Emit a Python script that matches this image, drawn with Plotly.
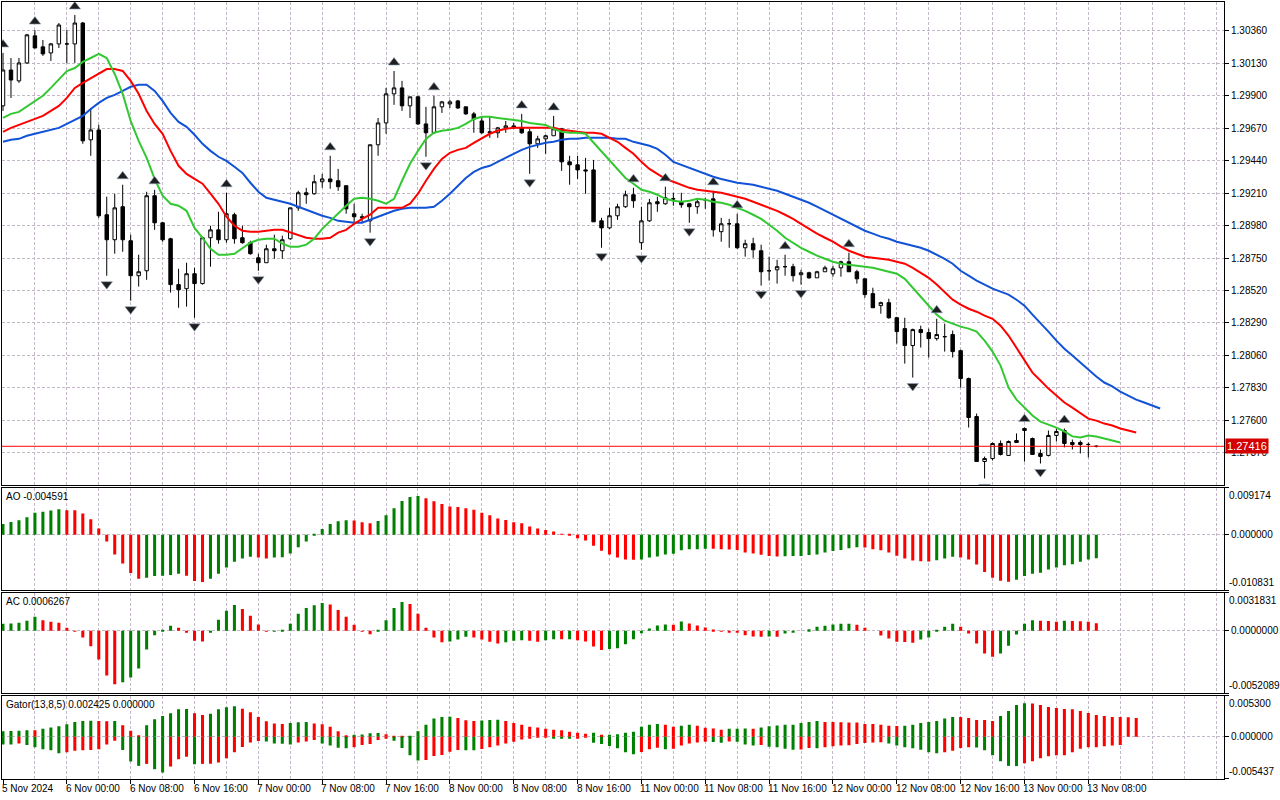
import plotly.graph_objects as go
from plotly.subplots import make_subplots

# GBPUSD H1, one bar per hour (weekend skipped), labels every 8 bars
time_labels = ["5 Nov 2024", "6 Nov 00:00", "6 Nov 08:00", "6 Nov 16:00", "7 Nov 00:00",
               "7 Nov 08:00", "7 Nov 16:00", "8 Nov 00:00", "8 Nov 08:00", "8 Nov 16:00",
               "11 Nov 00:00", "11 Nov 08:00", "11 Nov 16:00", "12 Nov 00:00", "12 Nov 08:00",
               "12 Nov 16:00", "13 Nov 00:00", "13 Nov 08:00"]

opens = [1.29829, 1.30083, 1.30006, 1.30133, 1.30325, 1.30247, 1.30204, 1.30268, 1.30268, 1.30268,
         1.30416, 1.29588, 1.29658, 1.29057, 1.28880, 1.29114, 1.28873, 1.28625, 1.28660, 1.29192,
         1.29000, 1.28887, 1.28562, 1.28533, 1.28639, 1.28569, 1.28894, 1.28950, 1.28880, 1.29057,
         1.28894, 1.28859, 1.28752, 1.28717, 1.28816, 1.28802, 1.28887, 1.29106, 1.29213, 1.29206,
         1.29291, 1.29311, 1.29298, 1.29263, 1.29064, 1.29043, 1.29014, 1.29553, 1.29708, 1.29914,
         1.29956, 1.29829, 1.29893, 1.29701, 1.29638, 1.29822, 1.29843, 1.29864, 1.29822, 1.29772,
         1.29722, 1.29645, 1.29638, 1.29673, 1.29687, 1.29673, 1.29645, 1.29560, 1.29595, 1.29617,
         1.29666, 1.29432, 1.29411, 1.29375, 1.29375, 1.29014, 1.28964, 1.29050, 1.29114, 1.29199,
         1.28859, 1.29014, 1.29149, 1.29135, 1.29170, 1.29149, 1.29135, 1.29114, 1.29163, 1.29170,
         1.28937, 1.28993, 1.28993, 1.28823, 1.28852, 1.28802, 1.28660, 1.28667, 1.28689, 1.28689,
         1.28632, 1.28646, 1.28610, 1.28653, 1.28639, 1.28681, 1.28724, 1.28653, 1.28603, 1.28498,
         1.28413, 1.28434, 1.28327, 1.28250, 1.28130, 1.28243, 1.28222, 1.28179, 1.28193, 1.28208,
         1.28094, 1.27896, 1.27627, 1.27308, 1.27329, 1.27436, 1.27351, 1.27457, 1.27542, 1.27471,
         1.27365, 1.27351, 1.27493, 1.27528, 1.27443, 1.27443, 1.27429, 1.27415]
highs = [1.30204, 1.30168, 1.30168, 1.30339, 1.30366, 1.30296, 1.30275, 1.30416, 1.30366, 1.30473,
         1.30423, 1.29814, 1.29694, 1.29185, 1.29206, 1.29270, 1.28916, 1.28774, 1.29220, 1.29234,
         1.29007, 1.28894, 1.28674, 1.28717, 1.28681, 1.28902, 1.28979, 1.29078, 1.29213, 1.29071,
         1.28979, 1.28873, 1.28781, 1.28845, 1.28916, 1.28909, 1.29106, 1.29227, 1.29248, 1.29340,
         1.29347, 1.29475, 1.29382, 1.29263, 1.29135, 1.29064, 1.29553, 1.29743, 1.29956, 1.30076,
         1.30006, 1.29893, 1.29900, 1.29822, 1.29900, 1.29864, 1.29871, 1.29871, 1.29822, 1.29786,
         1.29750, 1.29750, 1.29680, 1.29722, 1.29708, 1.29772, 1.29666, 1.29617, 1.29624, 1.29758,
         1.29673, 1.29475, 1.29475, 1.29460, 1.29446, 1.29035, 1.29106, 1.29135, 1.29227, 1.29248,
         1.29114, 1.29170, 1.29185, 1.29256, 1.29213, 1.29213, 1.29142, 1.29170, 1.29177, 1.29227,
         1.29035, 1.29028, 1.29064, 1.28880, 1.28894, 1.28845, 1.28760, 1.28738, 1.28774, 1.28710,
         1.28667, 1.28653, 1.28660, 1.28696, 1.28696, 1.28731, 1.28788, 1.28667, 1.28603, 1.28540,
         1.28441, 1.28462, 1.28334, 1.28327, 1.28250, 1.28271, 1.28250, 1.28320, 1.28285, 1.28236,
         1.28101, 1.27903, 1.27648, 1.27343, 1.27443, 1.27457, 1.27457, 1.27507, 1.27549, 1.27478,
         1.27393, 1.27528, 1.27542, 1.27542, 1.27464, 1.27457, 1.27443, 1.27422]
lows = [1.29793, 1.29885, 1.29992, 1.30126, 1.30239, 1.30183, 1.30147, 1.30239, 1.30133, 1.30133,
        1.29560, 1.29475, 1.29035, 1.28625, 1.28781, 1.28795, 1.28448, 1.28548, 1.28596, 1.28950,
        1.28866, 1.28505, 1.28398, 1.28406, 1.28327, 1.28562, 1.28689, 1.28852, 1.28859, 1.28852,
        1.28852, 1.28774, 1.28660, 1.28717, 1.28745, 1.28745, 1.28880, 1.29085, 1.29135, 1.29199,
        1.29248, 1.29241, 1.29227, 1.29064, 1.29000, 1.29000, 1.28930, 1.29475, 1.29631, 1.29836,
        1.29793, 1.29743, 1.29694, 1.29468, 1.29631, 1.29779, 1.29814, 1.29807, 1.29765, 1.29638,
        1.29631, 1.29602, 1.29602, 1.29638, 1.29666, 1.29631, 1.29347, 1.29531, 1.29489, 1.29617,
        1.29368, 1.29270, 1.29311, 1.29206, 1.29007, 1.28823, 1.28957, 1.29021, 1.29106, 1.29106,
        1.28809, 1.29007, 1.29078, 1.29128, 1.29121, 1.29106, 1.29000, 1.29064, 1.29099, 1.28902,
        1.28866, 1.28823, 1.28816, 1.28760, 1.28752, 1.28555, 1.28590, 1.28569, 1.28625, 1.28583,
        1.28562, 1.28603, 1.28610, 1.28653, 1.28618, 1.28618, 1.28653, 1.28569, 1.28469, 1.28398,
        1.28356, 1.28320, 1.28144, 1.28002, 1.27903, 1.28116, 1.28045, 1.28165, 1.28087, 1.28045,
        1.27832, 1.27549, 1.27308, 1.27188, 1.27315, 1.27351, 1.27351, 1.27443, 1.27308, 1.27358,
        1.27294, 1.27344, 1.27450, 1.27408, 1.27393, 1.27365, 1.27337, 1.27408]
closes = [1.30083, 1.30012, 1.30133, 1.30332, 1.30239, 1.30197, 1.30268, 1.30402, 1.30268, 1.30416,
          1.29581, 1.29658, 1.29050, 1.28880, 1.29106, 1.28880, 1.28625, 1.28653, 1.29192, 1.29000,
          1.28880, 1.28562, 1.28526, 1.28639, 1.28569, 1.28894, 1.28950, 1.28880, 1.29064, 1.28887,
          1.28859, 1.28781, 1.28717, 1.28816, 1.28802, 1.28880, 1.29106, 1.29213, 1.29199, 1.29291,
          1.29311, 1.29291, 1.29256, 1.29099, 1.29043, 1.29035, 1.29553, 1.29708, 1.29914, 1.29956,
          1.29829, 1.29893, 1.29701, 1.29638, 1.29822, 1.29857, 1.29857, 1.29814, 1.29772, 1.29736,
          1.29638, 1.29638, 1.29673, 1.29687, 1.29673, 1.29638, 1.29560, 1.29595, 1.29617, 1.29666,
          1.29432, 1.29411, 1.29375, 1.29368, 1.29007, 1.28964, 1.29050, 1.29114, 1.29199, 1.29156,
          1.29014, 1.29142, 1.29135, 1.29177, 1.29170, 1.29128, 1.29114, 1.29149, 1.29163, 1.28950,
          1.28993, 1.28993, 1.28823, 1.28852, 1.28809, 1.28653, 1.28660, 1.28689, 1.28689, 1.28625,
          1.28646, 1.28610, 1.28653, 1.28681, 1.28674, 1.28724, 1.28653, 1.28603, 1.28491, 1.28398,
          1.28434, 1.28327, 1.28229, 1.28130, 1.28243, 1.28222, 1.28179, 1.28208, 1.28193, 1.28087,
          1.27896, 1.27620, 1.27308, 1.27329, 1.27436, 1.27358, 1.27450, 1.27443, 1.27528, 1.27358,
          1.27344, 1.27493, 1.27521, 1.27436, 1.27429, 1.27429, 1.27429, 1.27416]

# Alligator lines, already shifted forward (lips 3, teeth 5, jaw 8 bars)
lips = [1.29743, 1.29772, 1.29786, 1.29822, 1.29864, 1.29900, 1.29956, 1.30019, 1.30076, 1.30097,
        1.30140, 1.30168, 1.30197, 1.30168, 1.30055, 1.29914, 1.29722, 1.29581, 1.29460, 1.29311,
        1.29192, 1.29135, 1.29121, 1.29085, 1.28964, 1.28894, 1.28816, 1.28774, 1.28774, 1.28781,
        1.28823, 1.28859, 1.28880, 1.28887, 1.28887, 1.28852, 1.28831, 1.28831, 1.28845, 1.28887,
        1.28957, 1.29014, 1.29071, 1.29121, 1.29170, 1.29177, 1.29170, 1.29156, 1.29135, 1.29170,
        1.29298, 1.29418, 1.29510, 1.29595, 1.29638, 1.29652, 1.29659, 1.29673, 1.29701, 1.29736,
        1.29751, 1.29751, 1.29743, 1.29736, 1.29729, 1.29722, 1.29708, 1.29701, 1.29694, 1.29666,
        1.29645, 1.29638, 1.29638, 1.29631, 1.29567, 1.29510, 1.29439, 1.29382, 1.29318, 1.29277,
        1.29234, 1.29220, 1.29199, 1.29170, 1.29156, 1.29149, 1.29156, 1.29170, 1.29163, 1.29149,
        1.29142, 1.29128, 1.29106, 1.29085, 1.29057, 1.29028, 1.28986, 1.28944, 1.28894, 1.28859,
        1.28823, 1.28795, 1.28767, 1.28745, 1.28724, 1.28710, 1.28703, 1.28696, 1.28689, 1.28681,
        1.28667, 1.28653, 1.28639, 1.28603, 1.28540, 1.28469, 1.28413, 1.28349, 1.28306, 1.28285,
        1.28264, 1.28250, 1.28229, 1.28165, 1.28087, 1.27988, 1.27832, 1.27747, 1.27690, 1.27634,
        1.27591, 1.27570, 1.27548, 1.27521, 1.27486, 1.27478, 1.27493, 1.27486, 1.27471, 1.27457,
        1.27443]
teeth = [1.29645, 1.29673, 1.29694, 1.29715, 1.29736, 1.29758, 1.29793, 1.29829, 1.29885, 1.29956,
         1.29992, 1.30026, 1.30062, 1.30090, 1.30090, 1.30076, 1.30006, 1.29914, 1.29793, 1.29701,
         1.29631, 1.29510, 1.29404, 1.29347, 1.29311, 1.29277, 1.29206, 1.29135, 1.29043, 1.28979,
         1.28944, 1.28937, 1.28937, 1.28944, 1.28950, 1.28950, 1.28930, 1.28909, 1.28894, 1.28887,
         1.28887, 1.28894, 1.28930, 1.28950, 1.28993, 1.29028, 1.29057, 1.29106, 1.29106, 1.29106,
         1.29106, 1.29135, 1.29206, 1.29298, 1.29382, 1.29453, 1.29496, 1.29517, 1.29531, 1.29567,
         1.29602, 1.29631, 1.29652, 1.29666, 1.29673, 1.29673, 1.29673, 1.29673, 1.29673, 1.29673,
         1.29659, 1.29652, 1.29645, 1.29638, 1.29638, 1.29631, 1.29602, 1.29574, 1.29531, 1.29489,
         1.29432, 1.29382, 1.29347, 1.29311, 1.29291, 1.29270, 1.29248, 1.29234, 1.29227, 1.29220,
         1.29213, 1.29199, 1.29185, 1.29170, 1.29149, 1.29128, 1.29106, 1.29085, 1.29057, 1.29028,
         1.28993, 1.28957, 1.28923, 1.28894, 1.28866, 1.28831, 1.28802, 1.28781, 1.28760, 1.28752,
         1.28745, 1.28738, 1.28724, 1.28710, 1.28681, 1.28646, 1.28610, 1.28562, 1.28512, 1.28455,
         1.28420, 1.28391, 1.28370, 1.28342, 1.28320, 1.28271, 1.28201, 1.28115, 1.28030, 1.27938,
         1.27882, 1.27825, 1.27776, 1.27726, 1.27690, 1.27648, 1.27612, 1.27598, 1.27577, 1.27563,
         1.27542, 1.27528, 1.27514]
jaw = [1.29574, 1.29588, 1.29595, 1.29617, 1.29631, 1.29645, 1.29659, 1.29673, 1.29701, 1.29729,
       1.29758, 1.29807, 1.29850, 1.29885, 1.29907, 1.29935, 1.29964, 1.29978, 1.29978, 1.29935,
       1.29864, 1.29779, 1.29715, 1.29680, 1.29624, 1.29560, 1.29510, 1.29468, 1.29439, 1.29397,
       1.29354, 1.29284, 1.29220, 1.29177, 1.29163, 1.29149, 1.29135, 1.29114, 1.29092, 1.29071,
       1.29050, 1.29035, 1.29014, 1.29007, 1.29000, 1.29000, 1.29021, 1.29043, 1.29064, 1.29085,
       1.29099, 1.29106, 1.29106, 1.29106, 1.29114, 1.29156, 1.29206, 1.29263, 1.29318, 1.29361,
       1.29389, 1.29404, 1.29432, 1.29460, 1.29489, 1.29517, 1.29538, 1.29553, 1.29567, 1.29574,
       1.29588, 1.29595, 1.29595, 1.29602, 1.29602, 1.29602, 1.29602, 1.29595, 1.29595, 1.29574,
       1.29560, 1.29546, 1.29524, 1.29482, 1.29432, 1.29411, 1.29389, 1.29368, 1.29347, 1.29326,
       1.29311, 1.29298, 1.29284, 1.29277, 1.29270, 1.29256, 1.29241, 1.29227, 1.29206, 1.29185,
       1.29163, 1.29142, 1.29114, 1.29085, 1.29057, 1.29028, 1.29000, 1.28972, 1.28944, 1.28923,
       1.28902, 1.28887, 1.28866, 1.28852, 1.28838, 1.28823, 1.28802, 1.28774, 1.28745, 1.28710,
       1.28660, 1.28625, 1.28590, 1.28562, 1.28533, 1.28512, 1.28491, 1.28455, 1.28413, 1.28349,
       1.28292, 1.28229, 1.28165, 1.28108, 1.28059, 1.28009, 1.27959, 1.27910, 1.27868, 1.27840,
       1.27804, 1.27776, 1.27747, 1.27726, 1.27705, 1.27684]

# bar indices carrying a fractal
fractal_up = [0, 4, 9, 15, 19, 28, 41, 49, 54, 65, 69, 79, 83, 89, 92, 98, 106, 117, 128, 133]
fractal_down = [13, 16, 24, 32, 46, 53, 66, 75, 80, 86, 95, 100, 114, 123, 130]

ao = [0.002112, 0.002508, 0.002838, 0.003432, 0.00429, 0.004488, 0.004752, 0.005016, 0.004818, 0.004785,
      0.004158, 0.003036, 0.001254, -0.00132, -0.003828, -0.00561, -0.007458, -0.00858, -0.008382, -0.008052,
      -0.008019, -0.007854, -0.00759, -0.007986, -0.009042, -0.00924, -0.00858, -0.00759, -0.006402, -0.00528,
      -0.00462, -0.00429, -0.004422, -0.00462, -0.004422, -0.004389, -0.00363, -0.002442, -0.00132, -0.000066,
      0.001122, 0.002112, 0.00264, 0.002838, 0.002805, 0.002442, 0.002244, 0.002706, 0.003828, 0.005214,
      0.0066, 0.007392, 0.00759, 0.007128, 0.006534, 0.006006, 0.005544, 0.005412, 0.005214, 0.004884,
      0.00429, 0.003828, 0.003168, 0.002904, 0.002442, 0.002244, 0.00165, 0.001254, 0.000924, 0.00066,
      0.000132, -0.000066, -0.00066, -0.001122, -0.002112, -0.003102, -0.003828, -0.004422, -0.004818, -0.004884,
      -0.004818, -0.004422, -0.004224, -0.003828, -0.003696, -0.003036, -0.002838, -0.002805, -0.002706, -0.002739,
      -0.002838, -0.002871, -0.00297, -0.003432, -0.00363, -0.003894, -0.004158, -0.004224, -0.004191, -0.004158,
      -0.004125, -0.00396, -0.003828, -0.003432, -0.003168, -0.00297, -0.00264, -0.002442, -0.002475, -0.002838,
      -0.003036, -0.003432, -0.004092, -0.00462, -0.005016, -0.005148, -0.005214, -0.00495, -0.00462, -0.00429,
      -0.004422, -0.004818, -0.005808, -0.00726, -0.008382, -0.008976, -0.009174, -0.008778, -0.008052, -0.00759,
      -0.007392, -0.006798, -0.006402, -0.00594, -0.005742, -0.00528, -0.004818, -0.004591]

ac = [0.000584, 0.000612, 0.000667, 0.000834, 0.001168, 0.00089, 0.000751, 0.000667, 0.00025, -0.000028,
      -0.000556, -0.001279, -0.002391, -0.003725, -0.004476, -0.004309, -0.003892, -0.003141, -0.001557, -0.000361,
      0.000056, 0.000417, 0.00025, -0.000111, -0.000834, -0.00089, -0.000139, 0.000917, 0.001668, 0.002168,
      0.001835, 0.001251, 0.000528, -0.000028, -0.000014, 0.000083, 0.000584, 0.001418, 0.001918, 0.002141,
      0.002335, 0.002196, 0.001751, 0.001168, 0.0005, -0.000028, -0.000278, 0.000056, 0.00089, 0.001918,
      0.002419, 0.002252, 0.001418, 0.00025, -0.000556, -0.000945, -0.00089, -0.000723, -0.0005, -0.000556,
      -0.000723, -0.000917, -0.001056, -0.000945, -0.000834, -0.000778, -0.000834, -0.000917, -0.000778, -0.000695,
      -0.000709, -0.000695, -0.000778, -0.00089, -0.001307, -0.001612, -0.001529, -0.001446, -0.001112, -0.000695,
      -0.000195, 0.000195, 0.000445, 0.000528, 0.000514, 0.000778, 0.000612, 0.000445, 0.000278, 0.000111,
      -0.000056, -0.000139, -0.000153, -0.000361, -0.000473, -0.000487, -0.000473, -0.000487, -0.000222, -0.000139,
      0.0, 0.000139, 0.000334, 0.000417, 0.000528, 0.000584, 0.000598, 0.0005, 0.00025, 0.0,
      -0.000389, -0.000639, -0.000917, -0.000931, -0.001001, -0.000723, -0.000556, 0.00002, 0.000334, 0.000584,
      0.000334, -0.000222, -0.001056, -0.00189, -0.002168, -0.00189, -0.001251, -0.000306, 0.000584, 0.00089,
      0.000834, 0.00082, 0.000751, 0.000834, 0.00082, 0.000806, 0.000751, 0.0006267]

gator_up = [0.000724, 0.000746, 0.000767, 0.000852, 0.000831, 0.001022, 0.001193, 0.001363, 0.001619, 0.001917,
            0.002045, 0.002066, 0.002045, 0.002002, 0.002024, 0.001491, 0.000767, 0.000213, 0.001491, 0.002258,
            0.002684, 0.003025, 0.003536, 0.003578, 0.003025, 0.002812, 0.002982, 0.003536, 0.003791, 0.003919,
            0.003621, 0.003152, 0.002556, 0.002002, 0.001704, 0.001661, 0.001789, 0.001874, 0.001896, 0.001704,
            0.001619, 0.001278, 0.000724, 0.000213, 0.000256, 0.000298, 0.000469, 0.00049, 0.000341, 0.000128,
            0.000021, 0.000085, 0.000724, 0.001534, 0.002343, 0.002556, 0.002577, 0.002428, 0.00213, 0.002045,
            0.002087, 0.002173, 0.002194, 0.002045, 0.001789, 0.001534, 0.001278, 0.001193, 0.001022, 0.000895,
            0.000852, 0.000639, 0.000511, 0.000383, 0.000511, 0.000256, 0.000277, 0.000341, 0.000511, 0.000639,
            0.001278, 0.001534, 0.001661, 0.001534, 0.001278, 0.001406, 0.001534, 0.001406, 0.00115, 0.001065,
            0.000895, 0.001022, 0.001044, 0.001065, 0.001022, 0.001193, 0.001363, 0.001448, 0.001534, 0.001555,
            0.001789, 0.001917, 0.002045, 0.001917, 0.001896, 0.001874, 0.001853, 0.001832, 0.001661, 0.00164,
            0.001534, 0.001406, 0.001385, 0.001406, 0.001534, 0.001789, 0.001917, 0.002045, 0.002343, 0.002556,
            0.002535, 0.002428, 0.002173, 0.002151, 0.002045, 0.002684, 0.003323, 0.00409, 0.004303, 0.004281,
            0.00409, 0.003834, 0.003706, 0.003578, 0.003557, 0.003323, 0.003067, 0.002812, 0.002684, 0.002556,
            0.002535, 0.002513, 0.002425]
gator_down = [-0.00098, -0.001001, -0.000852, -0.001065, -0.001363, -0.001619, -0.001747, -0.00213, -0.002002, -0.001789,
              -0.001747, -0.001704, -0.001619, -0.00098, -0.000511, -0.001704, -0.003195, -0.003749, -0.003493, -0.004175,
              -0.004601, -0.003834, -0.002897, -0.002556, -0.003536, -0.003493, -0.003472, -0.003323, -0.002769, -0.002002,
              -0.001321, -0.000724, -0.000554, -0.000596, -0.000852, -0.000895, -0.00098, -0.000724, -0.000596, -0.000426,
              -0.000852, -0.001108, -0.001406, -0.001491, -0.001363, -0.001065, -0.000937, -0.000426, -0.00017, -0.000511,
              -0.001448, -0.002386, -0.003067, -0.002982, -0.002471, -0.002343, -0.001917, -0.001704, -0.001725, -0.001747,
              -0.001576, -0.001363, -0.001108, -0.000852, -0.000639, -0.000341, -0.000213, -0.000085, -0.000064, -0.000128,
              -0.00017, -0.000213, -0.000128, -0.000085, -0.000767, -0.000937, -0.001193, -0.001491, -0.002002, -0.002258,
              -0.00196, -0.001619, -0.001406, -0.001619, -0.001534, -0.001108, -0.000852, -0.000724, -0.000639, -0.000682,
              -0.000767, -0.000596, -0.000639, -0.00098, -0.001108, -0.001065, -0.001278, -0.001363, -0.001534, -0.001661,
              -0.00164, -0.001448, -0.001491, -0.001363, -0.001235, -0.001108, -0.001086, -0.000937, -0.000809, -0.000724,
              -0.000703, -0.000852, -0.001108, -0.001363, -0.001491, -0.001661, -0.002002, -0.00213, -0.002002, -0.001789,
              -0.001448, -0.001363, -0.001385, -0.001747, -0.002386, -0.003152, -0.003749, -0.00377, -0.003408, -0.003152,
              -0.002769, -0.002513, -0.002386, -0.002364, -0.002002, -0.001534, -0.001363, -0.001342, -0.001235, -0.001108,
              -0.001065]

last_price = 1.27416
price_ticks = [1.30360, 1.30130, 1.29900, 1.29670, 1.29440, 1.29210, 1.28980,
               1.28750, 1.28520, 1.28290, 1.28060, 1.27830, 1.27600, 1.27370]
ao_range = [-0.010831, 0.009174]
ac_range = [-0.0052089, 0.0031831]
gator_range = [-0.005437, 0.005300]

GREEN = "#008000"
RED = "#ff0000"
GRID = "#c4b8c8"
DASH = "3px,2px"
FONT = dict(family="Liberation Sans", size=10, color="black")


def trend_colors(values, use_abs=False):
    # green when the bar grows against the previous one, red when it shrinks
    cols, prev, last = [], None, GREEN
    for v in values:
        cur = abs(v) if use_abs else v
        if prev is not None:
            if cur > prev:
                last = GREEN
            elif cur < prev:
                last = RED
        cols.append(last)
        prev = cur
    return cols


n = len(opens)
bars = list(range(n))
label_bars = [8 * i for i in range(len(time_labels))]
grid_bars = [4 * i for i in range(39)]

fig = make_subplots(rows=4, cols=1, shared_xaxes=True, vertical_spacing=0.0)

fig.add_trace(go.Candlestick(
    x=bars, open=opens, high=highs, low=lows, close=closes,
    increasing=dict(line=dict(color="black", width=1), fillcolor="white"),
    decreasing=dict(line=dict(color="black", width=1), fillcolor="black"),
    whiskerwidth=0, hoverinfo="skip"), row=1, col=1)

fig.add_trace(go.Scatter(x=list(range(len(jaw))), y=jaw, mode="lines",
                         line=dict(color="#1152d6", width=2)), row=1, col=1)
fig.add_trace(go.Scatter(x=list(range(len(teeth))), y=teeth, mode="lines",
                         line=dict(color="#ff0000", width=2)), row=1, col=1)
fig.add_trace(go.Scatter(x=list(range(len(lips))), y=lips, mode="lines",
                         line=dict(color="#32c832", width=2)), row=1, col=1)

gap = 0.0006
fig.add_trace(go.Scatter(x=fractal_up, y=[highs[i] + gap for i in fractal_up], mode="markers",
                         marker=dict(symbol="triangle-up", size=10, color="#1e1e1e",
                                     line=dict(color="#8fa4bc", width=0.6))), row=1, col=1)
fig.add_trace(go.Scatter(x=fractal_down, y=[lows[i] - gap for i in fractal_down], mode="markers",
                         marker=dict(symbol="triangle-down", size=10, color="#1e1e1e",
                                     line=dict(color="#8fa4bc", width=0.6))), row=1, col=1)

fig.add_shape(type="line", xref="x domain", yref="y", x0=0, x1=1,
              y0=last_price, y1=last_price, line=dict(color="#ff0000", width=1))

fig.add_trace(go.Bar(x=bars, y=ao, width=0.38, marker=dict(color=trend_colors(ao), line=dict(width=0))),
              row=2, col=1)
fig.add_trace(go.Bar(x=bars, y=ac, width=0.38, marker=dict(color=trend_colors(ac), line=dict(width=0))),
              row=3, col=1)
fig.add_trace(go.Bar(x=list(range(len(gator_up))), y=gator_up, width=0.38,
                     marker=dict(color=trend_colors(gator_up), line=dict(width=0))), row=4, col=1)
fig.add_trace(go.Bar(x=list(range(len(gator_down))), y=gator_down, width=0.38,
                     marker=dict(color=trend_colors(gator_down, use_abs=True), line=dict(width=0))),
              row=4, col=1)

x_range = [-0.125, 153.0]
for r in range(1, 5):
    fig.update_xaxes(row=r, col=1, range=x_range, showline=True, mirror=True, linecolor="black",
                     linewidth=1, zeroline=False, showgrid=True, gridcolor=GRID, gridwidth=1,
                     griddash=DASH, tickmode="array", tickvals=label_bars, showticklabels=False,
                     ticks="outside" if r == 4 else "", ticklen=4, tickcolor="black",
                     minor=dict(tickmode="array", tickvals=grid_bars, showgrid=True, gridcolor=GRID,
                                griddash=DASH, ticks=""),
                     rangeslider_visible=False)

domains = [[0.3779, 1.0], [0.2429, 0.3747], [0.1105, 0.2397], [0.0, 0.1073]]
fig.update_yaxes(row=1, col=1, domain=domains[0], range=[1.27139, 1.30565], side="right",
                 tickmode="array", tickvals=price_ticks, ticktext=["%.5f" % p for p in price_ticks],
                 ticks="outside", ticklen=4, tickcolor="black", showgrid=True, gridcolor=GRID,
                 griddash=DASH, zeroline=False, showline=True, mirror=True, linecolor="black",
                 tickfont=FONT)
lower = [(2, ao_range, "0.000000"), (3, ac_range, "0.0000000"), (4, gator_range, "0.000000")]
for r, rng, zero_txt in lower:
    fig.update_yaxes(row=r, col=1, domain=domains[r - 1], range=rng, side="right", tickmode="array",
                     tickvals=[rng[0], 0, rng[1]], ticktext=["", zero_txt, ""], ticks="outside",
                     ticklen=4, tickcolor="black", showgrid=True, gridcolor=GRID, griddash=DASH,
                     zeroline=False, showline=True, mirror=True, linecolor="black", tickfont=FONT)

ann = []
titles = ["AO -0.004591", "AC 0.0006267", "Gator(13,8,5) 0.002425 0.000000"]
for i, t in enumerate(titles):
    ann.append(dict(text=t, xref="paper", x=0, xanchor="left", xshift=2,
                    yref="y%d domain" % (i + 2), y=1, yanchor="top", yshift=-1,
                    showarrow=False, font=FONT))
edge_labels = [("0.009174", "-0.010831"), ("0.0031831", "-0.0052089"), ("0.005300", "-0.005437")]
for i, (top, bottom) in enumerate(edge_labels):
    ann.append(dict(text=top, xref="paper", x=1, xanchor="left", xshift=3,
                    yref="y%d domain" % (i + 2), y=1, yanchor="top", showarrow=False, font=FONT))
    ann.append(dict(text=bottom, xref="paper", x=1, xanchor="left", xshift=3,
                    yref="y%d domain" % (i + 2), y=0, yanchor="bottom", showarrow=False, font=FONT))
for b, lab in zip(label_bars, time_labels):
    ann.append(dict(text=lab, xref="x4", x=b, xanchor="left", xshift=-3, yref="paper", y=0,
                    yanchor="top", yshift=-2, showarrow=False, font=FONT))
ann.append(dict(text="%.5f" % last_price, xref="paper", x=1, xanchor="left", xshift=1,
                yref="y", y=last_price, yanchor="middle", showarrow=False,
                font=dict(family="Liberation Sans", size=11, color="white"),
                bgcolor="#d40000", borderpad=1))

fig.update_layout(width=1280, height=800, margin=dict(l=2, r=53, t=1, b=21),
                  plot_bgcolor="white", paper_bgcolor="white", showlegend=False,
                  barmode="overlay", boxgap=0.38, font=FONT, annotations=ann)

# drop the default page margin so the 1280x800 figure fills the window exactly
fig.write_html("out.html", config={"displayModeBar": False},
               post_script="document.body.style.margin='0px';")
